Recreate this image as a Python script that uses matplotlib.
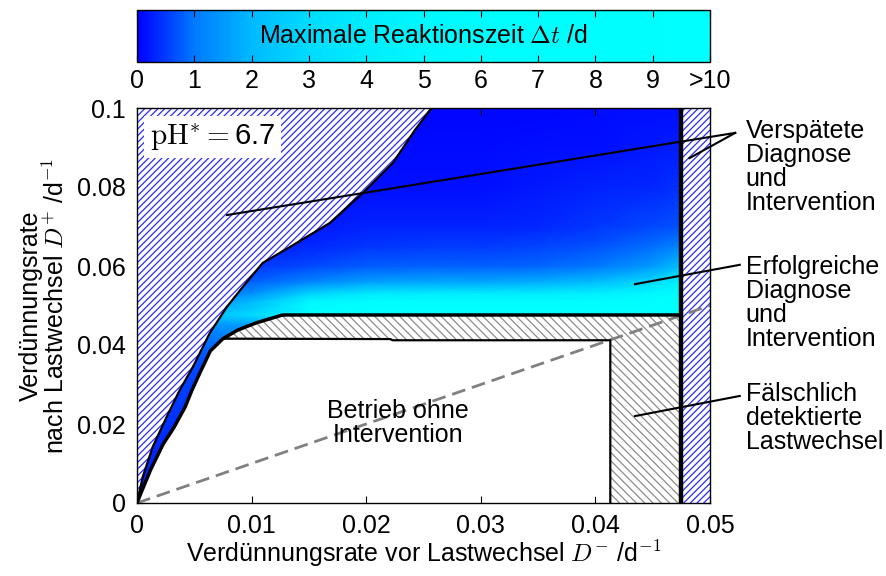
import numpy as np
import matplotlib
matplotlib.use('Agg')
import matplotlib.pyplot as plt
from matplotlib.patches import Polygon, Rectangle
from matplotlib.colors import LinearSegmentedColormap, Normalize
from matplotlib.cm import ScalarMappable

plt.rcParams['font.family'] = ['Liberation Sans', 'DejaVu Sans']
plt.rcParams['mathtext.fontset'] = 'cm'
plt.rcParams['hatch.linewidth'] = 0.9

# ── Data ─────────────────────────────────────────────────────
# colour scale: max. reaction time in days
cbar_ticks  = [0, 1, 2, 3, 4, 5, 6, 7, 8, 9, 10]
cbar_labels = ['0', '1', '2', '3', '4', '5', '6', '7', '8', '9', '>10']
cmap_pos    = [0.0, 0.1, 0.2, 0.3, 0.4, 0.5, 0.6, 1.0]
cmap_green  = [0.0, 0.48, 0.73, 0.86, 0.93, 0.97, 0.99, 1.0]

# upper-left limit of the coloured region (D-, D+)
upper_x = [0.0, 0.0005, 0.00137, 0.00259, 0.00373, 0.00487, 0.00635, 0.00783,
           0.00923, 0.01098, 0.01334, 0.01683, 0.01971, 0.02233, 0.02425, 0.0257]
upper_y = [0.0, 0.0066, 0.0142, 0.0218, 0.0286, 0.0344, 0.0430, 0.0496,
           0.0547, 0.0608, 0.0648, 0.0709, 0.0785, 0.0861, 0.0944, 0.1]

# thick detection limit curve, from threshold corner down to origin
curve_x = [0.0127, 0.0104, 0.0088, 0.0075, 0.0064, 0.0055, 0.0048, 0.0042,
           0.0032, 0.0023, 0.0012, 0.0003, 0.0]
curve_y = [0.0476, 0.0456, 0.0438, 0.0416, 0.0385, 0.0330, 0.0286, 0.0243,
           0.0190, 0.0150, 0.0085, 0.0022, 0.0]
d_plus_thr  = 0.0476    # threshold D+
d_minus_max = 0.0475    # right limit
white_right = 0.0413    # right edge of region without intervention
white_top_x = [0.0075, 0.0221, 0.0223, 0.0413]
white_top_y = [0.0416, 0.0415, 0.0412, 0.0412]

# reaction time field on a coarse grid
grid_x = [0.0, 0.005, 0.01, 0.015, 0.02, 0.025, 0.03, 0.035, 0.04, 0.045, 0.0475]
grid_y = [0.0, 0.02, 0.035, 0.041, 0.045, 0.0476, 0.049, 0.051, 0.053,
          0.056, 0.06, 0.065, 0.07, 0.08, 0.09, 0.1]
dt_vals = [
    [0.2, 0.2, 0.2, 0.2, 0.2, 0.2, 0.2, 0.2, 0.2, 0.2, 0.2],
    [0.4, 0.4, 0.4, 0.4, 0.4, 0.4, 0.4, 0.4, 0.4, 0.4, 0.4],
    [0.6, 0.6, 0.6, 0.6, 0.6, 0.6, 0.6, 0.6, 0.6, 0.6, 0.6],
    [0.9, 0.9, 1.0, 1.0, 1.0, 1.0, 1.0, 1.0, 1.0, 1.0, 1.0],
    [1.3, 1.3, 1.6, 1.6, 1.6, 1.6, 1.6, 1.6, 1.6, 1.6, 1.6],
    [2.0, 2.0, 3.0, 8.0, 10., 10., 10., 10., 10., 10., 10.],
    [1.8, 1.8, 2.5, 7.0, 10., 10., 10., 10., 10., 10., 10.],
    [1.2, 1.2, 2.0, 5.0, 7.0, 7.0, 7.0, 7.0, 7.0, 8.0, 10.],
    [0.9, 0.9, 1.4, 2.8, 3.8, 4.0, 4.0, 4.0, 4.3, 5.5, 7.0],
    [0.6, 0.6, 0.8, 1.2, 1.6, 1.7, 1.7, 1.8, 2.1, 3.0, 4.5],
    [0.35, 0.35, 0.45, 0.6, 0.75, 0.8, 0.8, 0.85, 1.0, 1.5, 2.2],
    [0.2, 0.2, 0.25, 0.35, 0.45, 0.5, 0.5, 0.55, 0.7, 0.9, 1.2],
    [0.1, 0.1, 0.15, 0.2, 0.3, 0.3, 0.3, 0.35, 0.45, 0.6, 0.7],
    [0.05, 0.05, 0.05, 0.1, 0.15, 0.15, 0.15, 0.2, 0.3, 0.35, 0.4],
    [0.02, 0.02, 0.02, 0.05, 0.08, 0.1, 0.1, 0.12, 0.15, 0.2, 0.25],
    [0.0, 0.0, 0.0, 0.02, 0.04, 0.05, 0.05, 0.07, 0.1, 0.12, 0.15],
]

# annotation leader lines: (text anchor, target)
leaders = [((0.0522, 0.0937), (0.00785, 0.0729)),
           ((0.0522, 0.0937), (0.0482, 0.0873)),
           ((0.0526, 0.0603), (0.04345, 0.0554)),
           ((0.0526, 0.0271), (0.04345, 0.0220))]

FS = 18

colors = [(0.0, g, 1.0) for g in cmap_green]
cmap = LinearSegmentedColormap.from_list('dt', list(zip(cmap_pos, colors)))
norm = Normalize(vmin=0, vmax=10)

fig = plt.figure(figsize=(8.86, 5.76), dpi=100)
ax  = fig.add_axes([137 / 886, 1 - 503 / 576, 573 / 886, 395 / 576])
cax = fig.add_axes([137 / 886, 1 - 62 / 576, 573 / 886, 52 / 576])

# ── coloured field, clipped to its region ────────────────────
region = list(zip(upper_x, upper_y)) + [(d_minus_max, 0.1), (d_minus_max, d_plus_thr)] \
    + list(zip(curve_x, curve_y))
clip = Polygon(region, closed=True, transform=ax.transData)
X, Y = np.meshgrid(grid_x, grid_y)
mesh = ax.pcolormesh(X, Y, np.array(dt_vals), shading='gouraud', cmap=cmap, norm=norm,
                     zorder=1)
mesh.set_clip_path(clip)

# ── hatched regions ──────────────────────────────────────────
late = list(zip(upper_x, upper_y)) + [(0.0, 0.1)]
ax.add_patch(Polygon(late, closed=True, facecolor='white', edgecolor='#2a2aff',
                     hatch='/////', lw=0, zorder=2))
ax.add_patch(Rectangle((d_minus_max, 0), 0.05 - d_minus_max, 0.1, facecolor='white',
                       edgecolor='#2a2aff', hatch='/////', lw=0, zorder=2))
false_det = list(zip(curve_x[:4], curve_y[:4])) + list(zip(white_top_x, white_top_y)) \
    + [(white_right, 0), (d_minus_max, 0), (d_minus_max, d_plus_thr)]
ax.add_patch(Polygon(false_det, closed=True, facecolor='white', edgecolor='0.55',
                     hatch='\\\\\\\\', lw=0, zorder=2))
no_int = list(zip(white_top_x, white_top_y)) + [(white_right, 0)] \
    + list(zip(curve_x[3:], curve_y[3:]))
ax.add_patch(Polygon(no_int, closed=True, facecolor='white', lw=0, zorder=2))

# identity line D+ = D-
ax.plot([0, 0.05], [0, 0.05], color='0.5', lw=2, linestyle=(0, (5, 2.5)), zorder=3)

# ── boundaries ───────────────────────────────────────────────
ax.plot(upper_x, upper_y, color='black', lw=1.6, zorder=4)
ax.plot(white_top_x + [white_right, white_right], white_top_y + [white_top_y[-1], 0],
        color='black', lw=1.6, zorder=4)
ax.plot([d_minus_max] + curve_x, [d_plus_thr] + curve_y, color='black', lw=2.5,
        solid_joinstyle='round', zorder=5)
ax.plot([d_minus_max, d_minus_max], [0, 0.1], color='black', lw=3.2, zorder=5)

for (x0, y0), (x1, y1) in leaders:
    ax.plot([x0, x1], [y0, y1], color='black', lw=1.5, zorder=6, clip_on=False)

# ── texts ────────────────────────────────────────────────────
ax.text(0.0066, 0.0927, r'$\mathrm{pH}^{*}=$6.7', fontsize=21, ha='center',
        va='center', zorder=7,
        bbox=dict(facecolor='white', edgecolor='none', pad=4))
ax.text(0.0228, 0.0203, 'Betrieb ohne\nIntervention', fontsize=FS, ha='center',
        va='center', linespacing=1.0, zorder=7)
ax.text(0.0531, 0.0851, 'Verspätete\nDiagnose\nund\nIntervention', fontsize=FS,
        ha='left', va='center', linespacing=1.0, clip_on=False)
ax.text(0.0531, 0.0507, 'Erfolgreiche\nDiagnose\nund\nIntervention', fontsize=FS,
        ha='left', va='center', linespacing=1.0, clip_on=False)
ax.text(0.0531, 0.0214, 'Fälschlich\ndetektierte\nLastwechsel', fontsize=FS,
        ha='left', va='center', linespacing=1.0, clip_on=False)

ax.set_xlim(0, 0.05)
ax.set_ylim(0, 0.1)
ax.set_xticks([0, 0.01, 0.02, 0.03, 0.04, 0.05])
ax.set_xticklabels(['0', '0.01', '0.02', '0.03', '0.04', '0.05'])
ax.set_yticks([0, 0.02, 0.04, 0.06, 0.08, 0.1])
ax.set_yticklabels(['0', '0.02', '0.04', '0.06', '0.08', '0.1'])
ax.tick_params(direction='in', top=True, right=True, length=5, width=0.8,
               labelsize=FS, pad=8)
ax.set_xlabel('Verdünnungsrate vor Lastwechsel $D^{-}$ /d$^{-1}$', fontsize=FS, labelpad=0)
ax.set_ylabel('Verdünnungsrate\nnach Lastwechsel $D^{+}$ /d$^{-1}$', fontsize=FS,
              labelpad=6, linespacing=1.0)
for s in ax.spines.values():
    s.set_linewidth(1.0)
    s.set_zorder(8)

# ── colour bar ───────────────────────────────────────────────
sm = ScalarMappable(norm=norm, cmap=cmap)
cb = fig.colorbar(sm, cax=cax, orientation='horizontal', ticks=cbar_ticks)
cb.set_ticklabels(cbar_labels)
cb.minorticks_off()
cb.outline.set_linewidth(1.0)
cax.tick_params(axis='x', direction='in', top=True, bottom=True, length=5, width=0.8,
                labelsize=FS, pad=5)
cax.text(0.5, 0.5, r'Maximale Reaktionszeit $\Delta t$ /d', transform=cax.transAxes,
         fontsize=FS, ha='center', va='center')

plt.savefig('out.png', dpi=100)
plt.close()
